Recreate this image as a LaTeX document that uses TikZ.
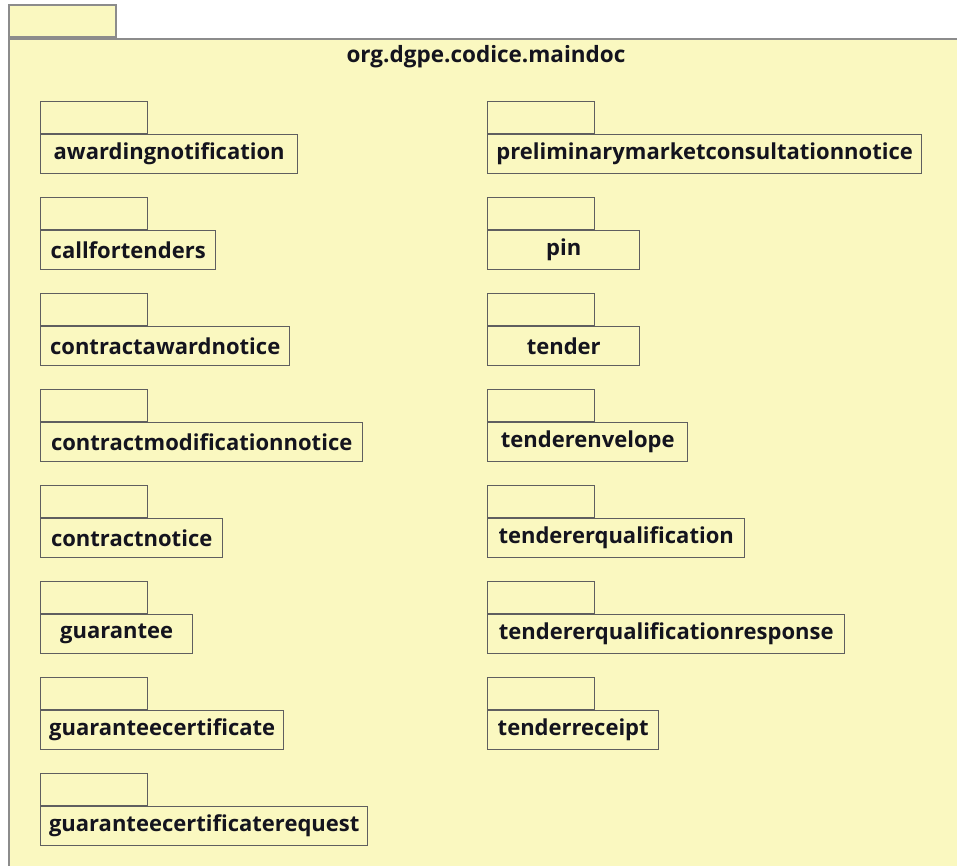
\documentclass[tikz,border=0pt]{standalone}
\usepackage{fontspec}
\setmainfont{Open Sans}
\definecolor{pkgfill}{RGB}{250,248,192}
\definecolor{outerline}{RGB}{140,140,140}
\definecolor{innerline}{RGB}{95,95,95}
\definecolor{txt}{RGB}{20,20,30}
\begin{document}
\begin{tikzpicture}[x=1pt,y=-1pt,
  pkgbody/.style={draw=innerline, fill=pkgfill, line width=1.4pt, minimum height=39pt, inner sep=0pt, anchor=north west, font=\fontsize{22}{24}\selectfont\bfseries, text=txt},
  pkgtab/.style={draw=innerline, fill=pkgfill, line width=1.4pt, minimum width=107pt, minimum height=32pt, inner sep=0pt, anchor=south west},
  outertab/.style={draw=outerline, fill=pkgfill, line width=1.8pt, minimum width=107pt, minimum height=32pt, inner sep=0pt, anchor=south west},
  outerbody/.style={draw=outerline, fill=pkgfill, line width=1.8pt, minimum width=960pt, minimum height=840pt, inner sep=0pt, anchor=north west},
  titlestyle/.style={font=\fontsize{22.5}{24}\selectfont\bfseries, text=txt, inner sep=0pt}]
\useasboundingbox (0,0) rectangle (957,865);
\begin{scope}
\clip (0,0) rectangle (957,865);
\node[outerbody] (outer) at (8,38) {};
\node[outertab] (outertab) at (outer.north west) {};
\end{scope}
\node[titlestyle] (title) at (486,57) {org.dgpe.codice.maindoc};
% left column
\node[pkgbody, minimum width=257pt] (p1) at (40,134) {awardingnotification};
\node[pkgtab] (p1t) at (p1.north west) {};
\node[pkgbody, minimum width=175pt] (p2) at (40,230) {callfortenders};
\node[pkgtab] (p2t) at (p2.north west) {};
\node[pkgbody, minimum width=249pt] (p3) at (40,326) {contractawardnotice};
\node[pkgtab] (p3t) at (p3.north west) {};
\node[pkgbody, minimum width=322pt] (p4) at (40,422) {contractmodificationnotice};
\node[pkgtab] (p4t) at (p4.north west) {};
\node[pkgbody, minimum width=182pt] (p5) at (40,518) {contractnotice};
\node[pkgtab] (p5t) at (p5.north west) {};
\node[pkgbody, minimum width=152pt] (p6) at (40,614) {guarantee};
\node[pkgtab] (p6t) at (p6.north west) {};
\node[pkgbody, minimum width=243pt] (p7) at (40,710) {guaranteecertificate};
\node[pkgtab] (p7t) at (p7.north west) {};
\node[pkgbody, minimum width=327pt] (p8) at (40,806) {guaranteecertificaterequest};
\node[pkgtab] (p8t) at (p8.north west) {};
% right column
\node[pkgbody, minimum width=434pt] (q1) at (487,134) {preliminarymarketconsultationnotice};
\node[pkgtab] (q1t) at (q1.north west) {};
\node[pkgbody, minimum width=152pt] (q2) at (487,230) {pin};
\node[pkgtab] (q2t) at (q2.north west) {};
\node[pkgbody, minimum width=152pt] (q3) at (487,326) {tender};
\node[pkgtab] (q3t) at (q3.north west) {};
\node[pkgbody, minimum width=200pt] (q4) at (487,422) {tenderenvelope};
\node[pkgtab] (q4t) at (q4.north west) {};
\node[pkgbody, minimum width=257pt] (q5) at (487,518) {tendererqualification};
\node[pkgtab] (q5t) at (q5.north west) {};
\node[pkgbody, minimum width=357pt] (q6) at (487,614) {tendererqualificationresponse};
\node[pkgtab] (q6t) at (q6.north west) {};
\node[pkgbody, minimum width=171pt] (q7) at (487,710) {tenderreceipt};
\node[pkgtab] (q7t) at (q7.north west) {};
\end{tikzpicture}
\end{document}
